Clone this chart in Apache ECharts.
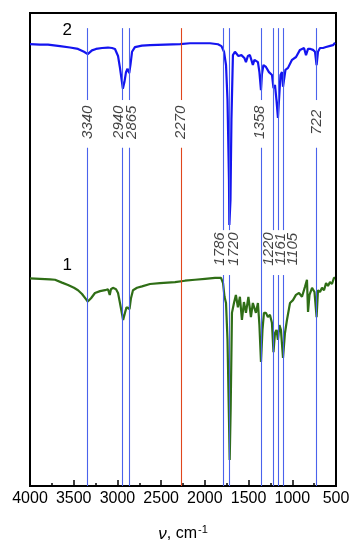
<!DOCTYPE html>
<html lang="en">
<head>
    <meta charset="UTF-8">
    <title>IR spectra</title>
    <style>
        html, body { margin: 0; padding: 0; background: #fff; }
        #main { width: 358px; height: 550px; }
    </style>
</head>
<body>
<div id="main"></div>
<script src="https://cdn.jsdelivr.net/npm/echarts@6/dist/echarts.min.js"></script>
<script>
    // curve 2 (blue): wavenumber, cm-1 / transmittance (arb. units)
    const wn2 = [4000,3886,3794,3657,3542,3451,3382,3340,3291,3245,3176,3108,3062,3028,2993,2971,2948,2938,2920,2902,2885,2865,2850,2833,2800,2720,2627,2456,2284,2170,2055,1941,1850,1810,1781,1758,1741,1724,1720,1707,1696,1679,1656,1637,1616,1599,1582,1565,1548,1530,1508,1485,1468,1451,1433,1416,1393,1376,1358,1347,1330,1301,1267,1232,1215,1198,1181,1164,1152,1135,1118,1106,1095,1078,1049,1003,957,912,866,843,820,792,763,740,722,706,683,649,614,592,557,534,511];
    const t2 = [93.4,93.3,93.3,93.0,92.7,92.4,91.8,91.3,92.1,92.4,92.6,92.7,92.6,92.4,90.9,88.4,85.4,84.0,85.4,87.5,88.2,87.3,89.2,91.8,92.8,93.1,93.2,93.3,93.4,93.6,93.6,93.6,93.4,93.0,91.8,89.0,81.6,64.7,55.2,60.5,77.4,91.1,91.8,92.2,90.9,90.5,91.1,91.5,90.5,89.6,90.9,91.1,90.1,89.0,90.1,90.5,89.6,87.5,83.7,87.1,89.0,88.6,87.5,86.9,84.1,84.8,81.6,77.8,81.6,86.9,87.5,84.4,85.8,88.0,88.4,90.1,90.7,92.2,92.6,91.1,92.4,92.4,92.2,91.8,89.0,91.8,92.6,92.6,92.8,92.7,93.1,93.2,93.7];

    // curve 1 (green)
    const wn1 = [4000,3886,3771,3714,3634,3565,3497,3451,3405,3360,3340,3302,3257,3199,3142,3108,3088,3074,3051,3016,2993,2971,2948,2935,2914,2896,2879,2862,2845,2822,2776,2719,2627,2513,2341,2227,2113,1998,1884,1815,1792,1775,1758,1741,1724,1716,1705,1690,1667,1645,1622,1599,1576,1553,1530,1502,1473,1451,1416,1393,1376,1358,1341,1324,1301,1279,1256,1233,1215,1198,1181,1164,1147,1130,1106,1084,1061,1026,992,958,923,889,855,832,820,803,774,746,722,706,683,660,637,614,592,569,546,523,511];
    const t1 = [43.9,43.8,43.7,43.6,43.0,42.5,41.9,41.4,40.6,39.5,39.0,39.7,40.8,41.2,41.4,41.6,40.4,41.6,41.9,41.6,40.8,38.7,36.4,35.1,36.6,37.8,38.1,37.4,39.7,41.4,41.9,42.2,42.7,42.9,43.1,43.4,43.6,43.8,44.0,44.0,42.9,40.0,38.7,30.9,14.0,5.5,16.1,36.6,38.7,40.4,37.8,40.0,35.1,38.9,36.6,40.0,35.7,38.7,36.6,38.7,34.0,26.2,33.0,36.6,36.6,35.7,36.2,34.5,28.3,32.3,33.0,30.9,34.0,33.0,27.1,32.3,35.1,38.7,39.3,40.4,40.8,40.0,42.1,43.6,36.8,40.4,41.9,41.0,35.7,41.4,41.0,41.9,41.4,42.9,42.3,43.1,42.7,44.0,44.0];

    // band positions, labelled in the upper row and in the middle row
    const bandsTop = [3340, 2940, 2865, 2270, 1358, 722];
    const bandsMid = [1786, 1720, 1220, 1161, 1105];
    const redBand = 2270;
    const xTicks = [500, 1000, 1500, 2000, 2500, 3000, 3500, 4000];

    const myChart = echarts.init(document.getElementById('main'));

    // small sideways shifts so that close labels do not collide (px)
    const shift = {2940: -4, 2865: 3, 1358: -1, 1786: -4, 1720: 4.5, 1220: -4, 1161: 3, 1105: 10};

    const lineTop = 96.8;
    const gapTop = [81.6, 71.5];
    const gapMid = [54.1, 44.6];

    function segments(bands, gap) {
        const out = [];
        bands.forEach(b => {
            out.push([{coord: [b, lineTop]}, {coord: [b, gap[0]]}]);
            out.push([{coord: [b, gap[1]]}, {coord: [b, 0]}]);
        });
        return out;
    }
    function labels(bands, y) {
        // label is turned 90deg, so its 2nd offset component moves it sideways
        return bands.map(b => ({
            value: [b, y],
            label: {offset: [0, shift[b] || 0]}
        }));
    }
    function bandLineSeries(list, color) {
        return {
            type: 'line',
            data: [],
            z: 1,
            silent: true,
            markLine: {
                silent: true,
                animation: false,
                symbol: ['none', 'none'],
                label: {show: false},
                lineStyle: {color: color, width: 1.1, type: 'solid', opacity: 1},
                emphasis: {disabled: true},
                data: list
            }
        };
    }

    const blueLines = segments(bandsTop.filter(b => b !== redBand), gapTop)
        .concat(segments(bandsMid, gapMid));
    const redLines = segments([redBand], gapTop);

    const font = 'Liberation Sans, Arial, sans-serif';

    const option = {
        animation: false,
        grid: {
            left: 30, right: 22, top: 13, bottom: 64,
            show: true, borderColor: '#000', borderWidth: 2
        },
        xAxis: {
            type: 'value',
            min: 500, max: 4000, interval: 500,
            inverse: true,
            axisLine: {show: true, lineStyle: {color: '#000', width: 2}},
            axisTick: {show: true, inside: true, length: 6, lineStyle: {color: '#000', width: 1.5}},
            minorTick: {show: true, splitNumber: 2, length: 3, lineStyle: {color: '#000', width: 1.5}},
            splitLine: {show: false},
            axisLabel: {
                color: '#000', fontSize: 16, margin: 5, fontFamily: font,
                formatter: v => xTicks.includes(v) ? String(v) : ''
            },
            name: '{i|ν}{n|, cm}{s|-1}',
            nameLocation: 'middle',
            nameGap: 38,
            nameTextStyle: {
                rich: {
                    i: {fontSize: 17, fontStyle: 'italic', color: '#000', fontFamily: font},
                    n: {fontSize: 16, color: '#000', fontFamily: font},
                    s: {fontSize: 11, color: '#000', padding: [0, 0, 9, 1], fontFamily: font}
                }
            }
        },
        yAxis: {
            type: 'value', min: 0, max: 100,
            axisLine: {show: false},
            axisTick: {show: false},
            axisLabel: {show: false},
            splitLine: {show: false}
        },
        series: [
            bandLineSeries(blueLines, '#4a62ec'),
            bandLineSeries(redLines, '#e0461c'),
            {
                name: 'band labels',
                type: 'scatter',
                symbolSize: 0,
                z: 5,
                silent: true,
                data: labels(bandsTop, 76.9).concat(labels(bandsMid, 50.1)),
                label: {
                    show: true,
                    position: 'inside',
                    rotate: 90,
                    color: '#111',
                    fontSize: 15,
                    fontStyle: 'italic',
                    fontFamily: font,
                    formatter: p => String(p.value[0])
                }
            },
            {
                name: '2',
                type: 'line',
                data: wn2.map((w, i) => [w, t2[i]]),
                showSymbol: false,
                z: 3,
                lineStyle: {color: '#1414f0', width: 2.2},
                markPoint: {
                    symbolSize: 0,
                    label: {show: true, color: '#000', fontSize: 17, fontFamily: font, formatter: '2'},
                    data: [{coord: [3575, 96.4]}]
                }
            },
            {
                name: '1',
                type: 'line',
                data: wn1.map((w, i) => [w, t1[i]]),
                showSymbol: false,
                z: 3,
                lineStyle: {color: '#2f6e16', width: 2.2},
                markPoint: {
                    symbolSize: 0,
                    label: {show: true, color: '#000', fontSize: 17, fontFamily: font, formatter: '1'},
                    data: [{coord: [3575, 46.7]}]
                }
            }
        ]
    };

    myChart.setOption(option);
</script>
</body>
</html>
